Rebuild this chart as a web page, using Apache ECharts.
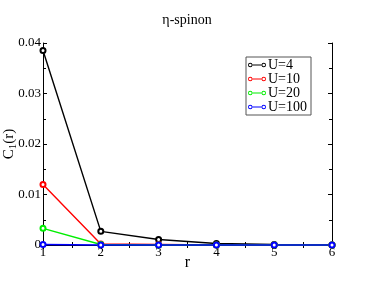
<!DOCTYPE html>
<html><head><meta charset="utf-8">
<script src="https://cdn.jsdelivr.net/npm/echarts@6/dist/echarts.min.js"></script>
<style>html,body{margin:0;padding:0;background:#fff}#c{width:374px;height:289px}</style>
</head><body><div id="c"></div>
<script>
const rValues = [1, 2, 3, 4, 5, 6];
const seriesNames = ['U=4', 'U=10', 'U=20', 'U=100'];
const u4 = [0.0385, 0.0027, 0.0011, 0.0003, 0.0001, 0.0];
const u10 = [0.0120, 0.0002, 0.0001, 0.0, 0.0, 0.0];
const u20 = [0.0033, 0.0001, 0.0, 0.0, 0.0, 0.0];
const u100 = [0.0001, 0.0, 0.0, 0.0, 0.0, 0.0];
const yTicks = [0, 0.01, 0.02, 0.03, 0.04];
const colors = ['#000000', '#ff0000', '#00ee00', '#0000ff'];
const allData = [u4, u10, u20, u100];

const F = 'Liberation Serif, Times New Roman, serif';
const icon = 'path://M0,5 A4,4 0 1,1 8,5 A4,4 0 1,1 0,5 Z M1.6,5 A2.4,2.4 0 1,0 6.4,5 A2.4,2.4 0 1,0 1.6,5 Z M24,5 A4,4 0 1,1 32,5 A4,4 0 1,1 24,5 Z M25.6,5 A2.4,2.4 0 1,0 30.4,5 A2.4,2.4 0 1,0 25.6,5 Z M8,4 L24,4 L24,6 L8,6 Z';

const chart = echarts.init(document.getElementById('c'));
const axisCommon = {
  axisLine: {show: true, lineStyle: {color: '#000', width: 1}},
  axisTick: {show: true, inside: true, length: 4, lineStyle: {color: '#000'}},
  minorTick: {show: true, splitNumber: 2, length: 3, lineStyle: {color: '#000'}},
  splitLine: {show: false},
  minorSplitLine: {show: false}
};
chart.setOption({
  animation: false,
  title: {text: 'η-spinon', left: 'center', top: 8,
    textStyle: {fontFamily: F, fontSize: 14, fontWeight: 'normal', color: '#000'}},
  grid: {left: 43, right: 42, top: 43, bottom: 44, containLabel: false, outerBoundsMode: 'none'},
  legend: {
    orient: 'vertical', left: 246, top: 57,
    backgroundColor: '#fff', borderColor: '#555', borderWidth: 1,
    padding: [1, 4, 1, 2], itemGap: 0, itemWidth: 18, itemHeight: 6,
    icon: icon,
    textStyle: {fontFamily: F, fontSize: 14, color: '#000', lineHeight: 13, padding: [0, 0, 0, -3]},
    data: seriesNames
  },
  xAxis: [
    Object.assign({type: 'value', min: 1, max: 6, interval: 1, position: 'bottom',
      name: 'r', nameLocation: 'middle', nameGap: 10, nameMoveOverlap: false,
      nameTextStyle: {fontFamily: F, fontSize: 16, color: '#000'},
      axisLabel: {fontFamily: F, fontSize: 13, color: '#000', margin: 1}}, axisCommon),
    Object.assign({type: 'value', min: 1, max: 6, interval: 1, position: 'top',
      axisLabel: {show: false}}, axisCommon)
  ],
  yAxis: [
    Object.assign({type: 'value', min: yTicks[0], max: yTicks[yTicks.length - 1], interval: 0.01,
      name: '{a|C}{b|1}{a|(r)}', nameLocation: 'middle', nameGap: 24, nameRotate: 90,
      nameMoveOverlap: false,
      nameTextStyle: {fontFamily: F, color: '#000',
        rich: {a: {fontFamily: F, fontSize: 15, color: '#000'},
               b: {fontFamily: F, fontSize: 11, color: '#000', padding: [8, 0, 0, 0]}}},
      axisLabel: {fontFamily: F, fontSize: 13, color: '#000', margin: 2,
        formatter: v => v === 0 ? '0' : String(+v.toFixed(2))}}, axisCommon),
    Object.assign({type: 'value', min: yTicks[0], max: yTicks[yTicks.length - 1], interval: 0.01,
      position: 'right', axisLabel: {show: false}}, axisCommon)
  ],
  series: seriesNames.map((n, i) => ({
    name: n, type: 'line',
    data: rValues.map((r, j) => [r, allData[i][j]]),
    symbol: 'emptyCircle', symbolSize: 5,
    lineStyle: {color: colors[i], width: 1.4},
    itemStyle: {color: colors[i], borderWidth: 0.8},
    clip: false
  }))
});
</script></body></html>
